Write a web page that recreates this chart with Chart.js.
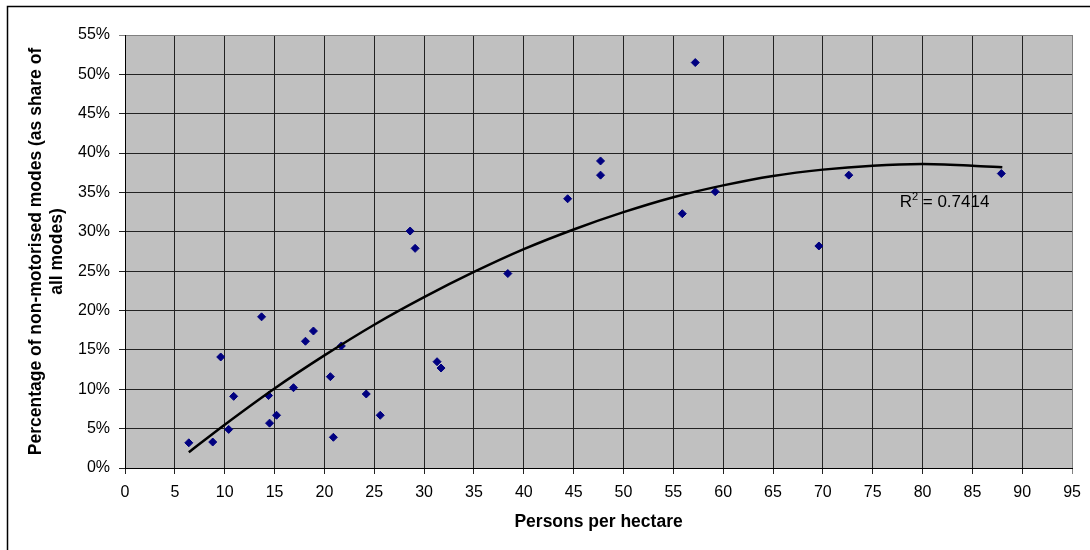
<!DOCTYPE html>
<html>
<head>
<meta charset="utf-8">
<title>Persons per hectare vs non-motorised share</title>
<script src="https://cdn.jsdelivr.net/npm/chart.js@4/dist/chart.umd.min.js"></script>
<style>
  html, body { margin: 0; padding: 0; background: #fff; }
  #chart { display: block; }
</style>
</head>
<body>
<canvas id="chart" width="1090" height="550"></canvas>
<script>
// observed cities: density (persons/ha) and non-motorised share (%)
const densityX = [6.4, 8.8, 9.6, 10.4, 10.9, 13.7, 14.4, 14.5, 15.2, 16.9, 18.1, 18.9, 20.6, 20.9, 21.7,
  24.2, 25.6, 28.6, 29.1, 31.3, 31.7, 38.4, 44.4, 47.7, 47.7, 55.9, 57.2, 59.2, 69.6, 72.6, 87.9];
const shareY = [3.2, 3.3, 14.1, 4.9, 9.1, 19.2, 9.2, 5.7, 6.7, 10.2, 16.1, 17.4, 11.6, 3.9, 15.5,
  9.4, 6.7, 30.1, 27.9, 13.5, 12.7, 24.7, 34.2, 39.0, 37.2, 32.3, 51.5, 35.1, 28.2, 37.2, 37.4];

// trendline
const trendX = [6.4, 10, 15, 20, 25, 30, 35, 40, 45, 50, 55, 60, 65, 70, 75, 80, 85, 88];
const trendY = [2.0, 5.5, 10.1, 14.3, 18.2, 21.7, 24.9, 27.8, 30.3, 32.5, 34.4, 35.9, 37.1, 37.9, 38.4, 38.6, 38.4, 38.2];

const rSquared = '0.7414';
const FONT = "'Liberation Sans', Arial, sans-serif";

const points = densityX.map((x, i) => ({ x, y: shareY[i] }));
const trend = trendX.map((x, i) => ({ x, y: trendY[i] }));

const chartFrame = {
  id: 'chartFrame',
  beforeDraw(chart) {
    const { ctx, chartArea } = chart;
    ctx.save();
    ctx.fillStyle = '#C0C0C0';
    ctx.fillRect(chartArea.left, chartArea.top, chartArea.right - chartArea.left, chartArea.bottom - chartArea.top);
    ctx.strokeStyle = '#000';
    ctx.lineWidth = 1.5;
    ctx.beginPath();
    ctx.moveTo(7.5, chart.height);
    ctx.lineTo(7.5, 6.5);
    ctx.lineTo(chart.width, 6.5);
    ctx.stroke();
    ctx.restore();
  },
};

const rLabel = {
  id: 'rLabel',
  afterDatasetsDraw(chart) {
    const { ctx, scales } = chart;
    let x = scales.x.getPixelForValue(77.7);
    const y = scales.y.getPixelForValue(33.2);
    ctx.save();
    ctx.fillStyle = '#000';
    ctx.textBaseline = 'alphabetic';
    ctx.font = '17px ' + FONT;
    ctx.fillText('R', x, y);
    x += ctx.measureText('R').width;
    ctx.font = '11px ' + FONT;
    ctx.fillText('2', x, y - 7);
    x += ctx.measureText('2').width;
    ctx.font = '17px ' + FONT;
    ctx.fillText(' = ' + rSquared, x, y);
    ctx.restore();
  },
};

new Chart(document.getElementById('chart'), {
  type: 'scatter',
  data: {
    datasets: [
      {
        label: 'Cities',
        data: points,
        pointStyle: 'rectRot',
        pointRadius: 4,
        pointBackgroundColor: '#000080',
        pointBorderColor: '#000080',
        pointBorderWidth: 1,
        showLine: false,
        order: 2,
      },
      {
        label: 'Trend',
        data: trend,
        showLine: true,
        borderColor: '#000',
        borderWidth: 2.5,
        pointRadius: 0,
        tension: 0.3,
        fill: false,
        order: 1,
      },
    ],
  },
  options: {
    responsive: false,
    animation: false,
    layout: { padding: { left: 0, top: 35, right: 16, bottom: 0 } },
    plugins: { legend: { display: false }, tooltip: { enabled: false } },
    scales: {
      x: {
        type: 'linear',
        min: 0,
        max: 95,
        afterFit(scale) { scale.height = 82; },
        grid: {
          color: (c) => (c.tick && c.tick.value === 95 ? '#808080' : '#222'),
          tickLength: 6,
        },
        border: { color: '#000', width: 1 },
        ticks: { stepSize: 5, color: '#000', padding: 9, font: { family: FONT, size: 16 }, maxRotation: 0 },
        title: {
          display: true,
          text: 'Persons per hectare',
          color: '#000',
          font: { family: FONT, size: 17.5, weight: 'bold' },
          padding: { top: 0, bottom: 17 },
        },
      },
      y: {
        min: 0,
        max: 55,
        afterFit(scale) { scale.width = 125; },
        grid: {
          color: (c) => (c.tick && c.tick.value === 55 ? '#808080' : '#222'),
          tickLength: 6,
        },
        border: { color: '#000', width: 1 },
        ticks: {
          stepSize: 5,
          color: '#000',
          padding: 9,
          font: { family: FONT, size: 16 },
          callback: (v) => v + '%',
        },
        title: {
          display: true,
          text: ['Percentage of non-motorised modes (as share of', 'all modes)'],
          color: '#000',
          font: { family: FONT, size: 17.5, weight: 'bold' },
          padding: { top: 26, bottom: 0 },
        },
      },
    },
  },
  plugins: [chartFrame, rLabel],
});
</script>
</body>
</html>
